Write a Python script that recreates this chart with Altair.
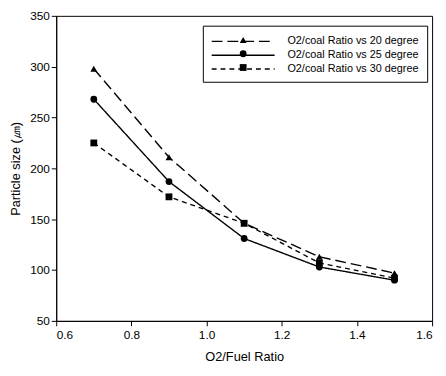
import altair as alt
import pandas as pd

ratio = [0.7, 0.9, 1.1, 1.3, 1.5]
series_names = ["O2/coal Ratio vs 20 degree", "O2/coal Ratio vs 25 degree", "O2/coal Ratio vs 30 degree"]
deg20 = [298, 211, 146, 113, 97]
deg25 = [268, 187, 131, 103, 90]
deg30 = [225, 172, 146, 107, 92]

rows = []
for name, vals in zip(series_names, [deg20, deg25, deg30]):
    for x, y in zip(ratio, vals):
        rows.append({"ratio": x, "size": y, "series": name, "series_m": name})
df = pd.DataFrame(rows)

FONT = "Liberation Sans"
LX, LY = 149, 10

x = alt.X("ratio:Q", title="O2/Fuel Ratio",
          scale=alt.Scale(domain=[0.6, 1.6], nice=False, zero=False),
          axis=alt.Axis(values=[0.6, 0.8, 1.0, 1.2, 1.4, 1.6], format=".1f", grid=False,
                        tickSize=5, labelPadding=4, titlePadding=10))
y = alt.Y("size:Q", title="Particle size (㎛)",
          scale=alt.Scale(domain=[50, 350], nice=False, zero=False),
          axis=alt.Axis(values=[50, 100, 150, 200, 250, 300, 350], grid=False,
                        tickSize=5, labelPadding=2, titlePadding=7))

lines = alt.Chart(df).mark_line(color="black", strokeWidth=1.4).encode(
    x=x, y=y,
    strokeDash=alt.StrokeDash("series:N",
        scale=alt.Scale(range=[[11, 5], [1, 0], [5, 4]]),
        legend=alt.Legend(orient="none", legendX=LX, legendY=LY, title=None,
                          symbolType="M-1,0H8.14", symbolSize=196, symbolStrokeColor="black",
                          symbolStrokeWidth=1.4, labelFontSize=11, labelFont=FONT,
                          labelColor="black",
                          strokeColor="black", padding=8, rowPadding=1, labelOffset=62,
                          fillColor="white"))
)

points = alt.Chart(df).mark_point(filled=True, color="black", opacity=1, size=48).encode(
    x=x, y=y,
    shape=alt.Shape("series_m:N",
        scale=alt.Scale(range=["triangle-up", "circle", "square"]),
        legend=alt.Legend(orient="none", legendX=LX + 28.5, legendY=LY + 2, title=None,
                          symbolSize=48, symbolFillColor="black", symbolStrokeColor="black",
                          labelExpr="''", labelFontSize=1, labelOffset=0,
                          padding=8, rowPadding=1))
)

chart = alt.layer(lines, points).properties(
    width=382, height=310,
    padding={"left": 49, "top": 5, "right": 6, "bottom": 50},
    autosize=alt.AutoSizeParams(type="none"),
    background="white",
).configure_view(stroke="black", strokeWidth=1).configure_axis(
    domainColor="black", tickColor="black", labelColor="black", titleColor="black",
    labelFont=FONT, titleFont=FONT, labelFontSize=12, titleFontSize=13,
    titleFontWeight="normal", domainWidth=1,
)

chart.save("out.html", embed_options={"renderer": "svg", "actions": False})
